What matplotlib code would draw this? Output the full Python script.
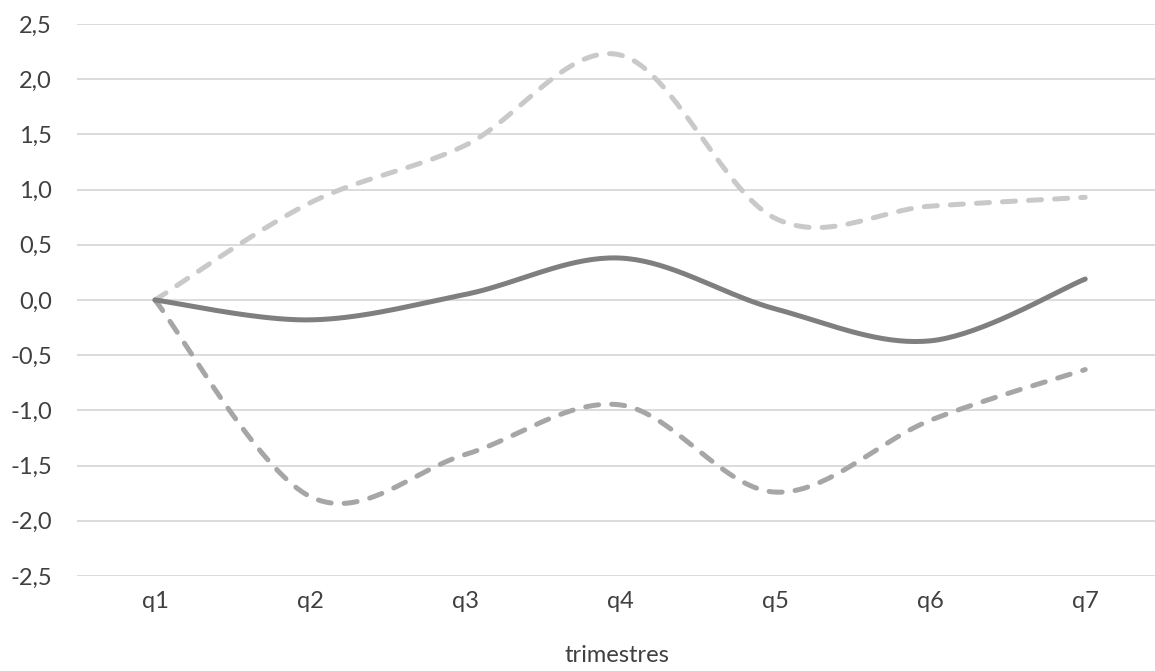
import numpy as np
import matplotlib
matplotlib.use("Agg")
import matplotlib.pyplot as plt
from matplotlib.ticker import FuncFormatter

plt.rcParams['font.family'] = ['Lato', 'DejaVu Sans']
plt.rcParams['lines.scale_dashes'] = False

quarters = ["q1", "q2", "q3", "q4", "q5", "q6", "q7"]
central = [0.0, -0.18, 0.05, 0.38, -0.08, -0.37, 0.19]
upper = [0.0, 0.88, 1.40, 2.22, 0.74, 0.85, 0.93]
lower = [0.0, -1.78, -1.40, -0.95, -1.74, -1.09, -0.63]
y_ticks = [-2.5, -2.0, -1.5, -1.0, -0.5, 0.0, 0.5, 1.0, 1.5, 2.0, 2.5]
x_title = "trimestres"


def smooth(xs, ys, n=40):
    """Catmull-Rom style cubic Bezier smoothing through every point."""
    p = np.column_stack([xs, ys]).astype(float)
    ext = np.vstack([p[0], p, p[-1]])
    out = []
    t = np.linspace(0, 1, n)[:, None]
    for i in range(len(p) - 1):
        p0, p1, p2, p3 = ext[i], ext[i + 1], ext[i + 2], ext[i + 3]
        c1 = p1 + (p2 - p0) / 6.0
        c2 = p2 - (p3 - p1) / 6.0
        seg = ((1 - t) ** 3) * p1 + 3 * ((1 - t) ** 2) * t * c1 \
            + 3 * (1 - t) * t ** 2 * c2 + t ** 3 * p2
        out.append(seg if i == 0 else seg[1:])
    s = np.vstack(out)
    return s[:, 0], s[:, 1]


W, H = 1155, 671
fig = plt.figure(figsize=(W / 100, H / 100), dpi=100)
ax = fig.add_axes([77 / W, (H - 576) / H, (W - 77) / W, (576 - 24) / H])

x = np.arange(len(quarters))
lw = 3.6
dash = (0, (9.4, 9.4))

xs, ys = smooth(x, upper)
ax.plot(xs, ys, color="#c9c9c9", lw=lw, linestyle=dash,
        dash_capstyle="round", solid_capstyle="round", zorder=3)
xs, ys = smooth(x, lower)
ax.plot(xs, ys, color="#a6a6a6", lw=lw, linestyle=dash,
        dash_capstyle="round", solid_capstyle="round", zorder=3)
xs, ys = smooth(x, central)
ax.plot(xs, ys, color="#7f7f7f", lw=lw, solid_capstyle="round", zorder=4)

ax.set_xlim(-0.503, 6.45)
ax.set_ylim(-2.5, 2.5)
ax.set_yticks(y_ticks)
ax.yaxis.set_major_formatter(FuncFormatter(lambda v, _: f"{v:.1f}".replace(".", ",")))
ax.set_xticks(x)
ax.set_xticklabels(quarters)
ax.grid(axis="y", color="#d9d9d9", lw=1.3, zorder=1)
ax.set_axisbelow(True)
for s in ax.spines.values():
    s.set_visible(False)
ax.tick_params(axis="both", length=0, labelsize=17, colors="#404040")
ax.tick_params(axis="y", pad=18)
ax.tick_params(axis="x", pad=11)
ax.set_xlabel(x_title, fontsize=17, color="#404040")
ax.xaxis.set_label_coords((617 - 77) / (W - 77), -(645 - 576) / (576 - 24))

fig.savefig("out.png", dpi=100, facecolor="white")
